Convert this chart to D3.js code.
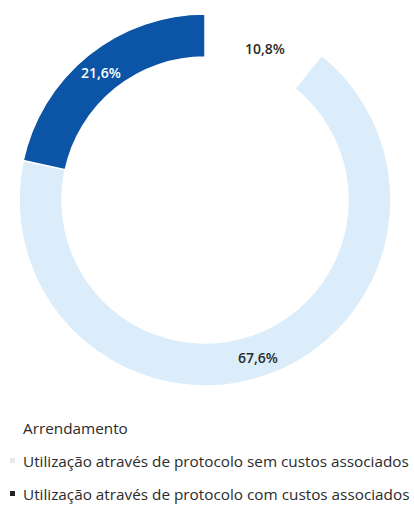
<!DOCTYPE html>
<html>
<head>
<meta charset="utf-8">
<script src="https://cdn.jsdelivr.net/npm/d3@7"></script>
<style>
  body { margin: 0; background: #fff; }
  svg { display: block; font-family: "Open Sans", sans-serif; }
</style>
</head>
<body>
<div class="container"></div>
<script>
const categories = ["Arrendamento",
                    "Utilização através de protocolo sem custos associados",
                    "Utilização através de protocolo com custos associados"]
const values = [10.8, 67.6, 21.6]
const labels = ["10,8%", "67,6%", "21,6%"]

const w = 414
const h = 508
const cx = 205
const cy = 200
const outerR = 186
const innerR = 143

const colors = ["#ffffff", "#dbedfa", "#0b54a6"]
const labelColors = ["#2b2b2b", "#2b2b2b", "#ffffff"]

const svg = d3.select(".container")
              .append("svg")
              .attr("width", w)
              .attr("height", h)

const pie = d3.pie().sort(null).value(d => d)
const arcs = pie(values)
const arc = d3.arc().innerRadius(innerR).outerRadius(outerR)

const g = svg.append("g").attr("transform", `translate(${cx}, ${cy})`)

g.selectAll("path")
 .data(arcs)
 .enter()
 .append("path")
 .attr("d", arc)
 .attr("fill", (d, i) => colors[i])
 .attr("stroke", "#fff")
 .attr("stroke-width", 1.5)

// label offsets from the centre
const labelX = [60, 53, -104]
const labelY = [-146, 163, -122]

g.selectAll("text.lbl")
 .data(arcs)
 .enter()
 .append("text")
 .attr("class", "lbl")
 .attr("x", (d, i) => labelX[i])
 .attr("y", (d, i) => labelY[i])
 .attr("text-anchor", "middle")
 .attr("font-size", 14)
 .attr("font-weight", 600)
 .attr("fill", (d, i) => labelColors[i])
 .text((d, i) => labels[i])

// legend
const legend = svg.append("g")
const rows = [434, 467, 500]
legend.selectAll("rect")
      .data(categories)
      .enter()
      .append("rect")
      .attr("x", 10)
      .attr("y", (d, i) => rows[i] - 9)
      .attr("width", 5)
      .attr("height", 5)
      .attr("fill", (d, i) => ["#ffffff", "#e8e8e8", "#222222"][i])

legend.selectAll("text")
      .data(categories)
      .enter()
      .append("text")
      .attr("x", 23)
      .attr("y", (d, i) => rows[i])
      .attr("font-size", 15.3)
      .attr("fill", "#2b2b2b")
      .text(d => d)
</script>
</body>
</html>
